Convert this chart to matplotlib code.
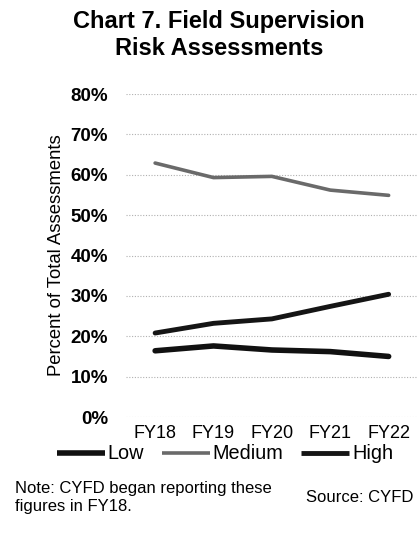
import matplotlib
matplotlib.use("Agg")
import matplotlib.pyplot as plt
from matplotlib.ticker import PercentFormatter

plt.rcParams["font.family"] = ["Liberation Sans", "DejaVu Sans"]

# fiscal years and share of assessments (%) per risk level
years = ["FY18", "FY19", "FY20", "FY21", "FY22"]
low = [16.4, 17.6, 16.6, 16.2, 15.0]
medium = [62.9, 59.3, 59.6, 56.2, 54.9]
high = [20.8, 23.2, 24.3, 27.4, 30.4]

fig = plt.figure(figsize=(4.17, 5.36), dpi=100)
ax = fig.add_axes([0.302, 0.222, 0.70, 0.6026])

x = range(len(years))
ax.plot(x, low, color="#111111", linewidth=4.0, label="Low", solid_capstyle="round")
ax.plot(x, medium, color="#6a6a6a", linewidth=2.6, label="Medium", solid_capstyle="round")
ax.plot(x, high, color="#151515", linewidth=3.5, label="High", solid_capstyle="round")

ax.set_xlim(-0.5, 4.5)
ax.set_ylim(0, 80)
ax.set_yticks(range(0, 81, 10))
ax.yaxis.set_major_formatter(PercentFormatter(decimals=0))
ax.set_xticks(list(x))
ax.set_xticklabels(years, fontsize=13)
for lab in ax.get_yticklabels():
    lab.set_fontsize(13.5)
    lab.set_fontweight("bold")
ax.tick_params(length=0, pad=13, axis="y")
ax.tick_params(length=0, pad=6, axis="x")
ax.grid(axis="y", color="#b0b0b0", linestyle=(0, (1, 1.5)), linewidth=0.8)
for s in ax.spines.values():
    s.set_visible(False)
ax.set_ylabel("Percent of Total Assessments", fontsize=13.3, labelpad=4)

fig.text(0.525, 0.982, "Chart 7. Field Supervision\nRisk Assessments", ha="center", va="top",
         fontsize=17, fontweight="bold", linespacing=1.25)

leg = fig.legend(loc="center", bbox_to_anchor=(0.54, 0.153), ncol=3, frameon=False,
                 fontsize=14.3, handlelength=2.4, handletextpad=0.15, columnspacing=0.9)
for h in leg.legend_handles:
    h.set_solid_capstyle("butt")

fig.text(0.035, 0.072, "Note: CYFD began reporting these\nfigures in FY18.", ha="left", va="center",
         fontsize=12, linespacing=1.2)
fig.text(0.992, 0.071, "Source: CYFD", ha="right", va="center", fontsize=12)

fig.savefig("out.png", dpi=100)
